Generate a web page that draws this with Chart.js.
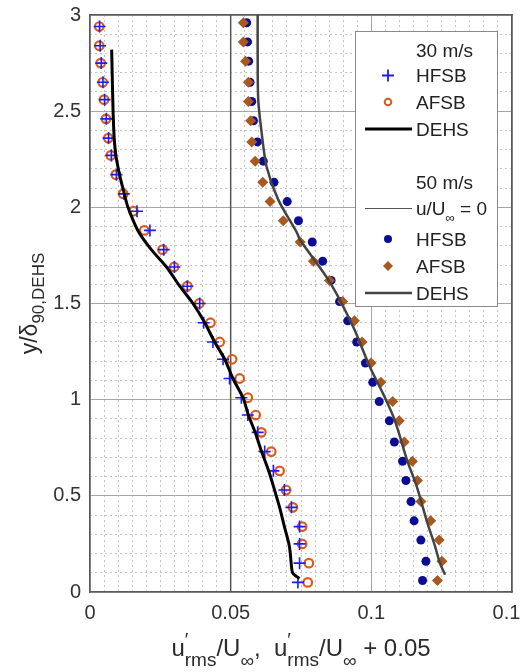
<!DOCTYPE html>
<html><head><meta charset="utf-8">
<script src="https://cdn.jsdelivr.net/npm/chart.js@4.4.1/dist/chart.umd.min.js"></script>
<style>html,body{margin:0;padding:0;background:#fff;overflow:hidden}#wrap{width:520px;height:672px;position:relative}</style>
</head><body><div id="wrap"><canvas id="c"></canvas></div>
<script>
// ---- data ----
const Y30 = [0.05,0.15,0.25,0.34,0.44,0.53,0.63,0.73,0.83,0.92,1.01,1.11,1.21,1.30,1.40,1.50,1.59,1.69,1.78,1.88,1.98,2.07,2.17,2.27,2.36,2.46,2.56,2.65,2.75,2.84,2.94];
const HFSB30 = [0.0739,0.0745,0.0745,0.0745,0.0716,0.0691,0.0652,0.0621,0.0596,0.0561,0.0538,0.0496,0.0473,0.0437,0.0404,0.0390,0.0346,0.0300,0.0262,0.0213,0.0167,0.0120,0.0094,0.0076,0.0066,0.0058,0.0052,0.0046,0.0040,0.0036,0.0034];
const AFSB30 = [0.0774,0.0778,0.0754,0.0754,0.0721,0.0697,0.0674,0.0644,0.0609,0.0589,0.0561,0.0532,0.0505,0.0461,0.0428,0.0388,0.0346,0.0299,0.0258,0.0193,0.0154,0.0118,0.0092,0.0074,0.0065,0.0057,0.0050,0.0045,0.0038,0.0033,0.0033];
const DEHS30_Y = [0.07,0.08,0.10,0.15,0.20,0.25,0.34,0.44,0.53,0.63,0.73,0.83,0.92,1.01,1.11,1.21,1.30,1.40,1.50,1.59,1.69,1.78,1.88,2.00,2.07,2.17,2.27,2.36,2.50,2.82];
const DEHS30_X = [0.0745,0.0735,0.0720,0.0715,0.0712,0.0707,0.0691,0.0674,0.0656,0.0635,0.0610,0.0587,0.0563,0.0544,0.0508,0.0479,0.0443,0.0408,0.0366,0.0319,0.0272,0.0218,0.0170,0.0135,0.0122,0.0105,0.0092,0.0086,0.0082,0.0077];
const Y50 = [0.06,0.16,0.27,0.37,0.47,0.58,0.68,0.78,0.89,0.99,1.09,1.19,1.30,1.41,1.51,1.62,1.72,1.82,1.93,2.03,2.13,2.24,2.34,2.45,2.55,2.65,2.76,2.86,2.96];
const HFSB50 = [0.1182,0.1194,0.1176,0.1152,0.1141,0.1123,0.1111,0.1082,0.1064,0.1028,0.1005,0.0979,0.0948,0.0916,0.0887,0.0857,0.0827,0.0790,0.0741,0.0701,0.0654,0.0616,0.0595,0.0581,0.0575,0.0569,0.0564,0.0560,0.0557];
const AFSB50 = [0.1235,0.1251,0.1241,0.1211,0.1176,0.1164,0.1146,0.1117,0.1099,0.1076,0.1034,0.0999,0.0967,0.0940,0.0898,0.0851,0.0794,0.0747,0.0687,0.0640,0.0614,0.0587,0.0575,0.0571,0.0563,0.0563,0.0553,0.0545,0.0545];
const DEHS50_Y = [0.09,0.15,0.24,0.37,0.55,0.69,0.89,1.03,1.17,1.38,1.61,1.83,1.87,2.04,2.21,2.39,2.56,2.80,3.00];
const DEHS50_X = [0.1262,0.1244,0.1226,0.1197,0.1161,0.1126,0.1084,0.1042,0.0995,0.0935,0.0853,0.0747,0.0735,0.0669,0.0628,0.0610,0.0598,0.0596,0.0596];
const ZERO_X = [0.05,0.05];
const ZERO_Y = [0,3];
const X_TICKS = [0,0.05,0.1,0.15];
const X_TICK_LABELS = ['0','0.05','0.1','0.15'];
const Y_TICKS = [0,0.5,1,1.5,2,2.5,3];
const Y_TICK_LABELS = ['0','0.5','1','1.5','2','2.5','3'];
const LEG_HEAD = ['30 m/s','50 m/s'];
const LEG_NAMES = ['HFSB','AFSB','DEHS'];

// ---- style ----
const FONT = "'Liberation Sans', Arial, Helvetica, sans-serif";
const C_PLUS = '#1c1cf0', C_CIRC = '#e0591c', C_DOT = '#0c0c96', C_DIAM = '#a9591f';
const pts = (xs, ys) => xs.map((x, i) => ({x: x, y: ys[i]}));

function drawRich(ctx, segs, cx, baseY) {
  let total = 0;
  const w = segs.map(s => { ctx.font = s.size + 'px ' + FONT; const m = ctx.measureText(s.t).width; if (!s.noAdv) total += m; return m; });
  let x = cx - total / 2;
  segs.forEach((s, i) => {
    ctx.font = s.size + 'px ' + FONT;
    ctx.fillText(s.t, x, baseY + (s.dy || 0));
    if (!s.noAdv) x += w[i];
  });
}

const decor = {
  id: 'decor',
  beforeDraw(chart) {
    const ctx = chart.ctx;
    ctx.save(); ctx.fillStyle = '#fff'; ctx.fillRect(0, 0, chart.width, chart.height); ctx.restore();
  },
  afterDraw(chart) {
    const ctx = chart.ctx, a = chart.chartArea;
    ctx.save();
    ctx.fillStyle = '#2b2b2b';
    ctx.textAlign = 'left';
    ctx.textBaseline = 'alphabetic';
    // x title
    const xs = [
      {t: 'u', size: 24},
      {t: '\u2032', size: 19, dy: -10, noAdv: true},
      {t: 'rms', size: 19, dy: 10},
      {t: '/U', size: 24},
      {t: '\u221E', size: 19, dy: 11},
      {t: ',  u', size: 24},
      {t: '\u2032', size: 19, dy: -10, noAdv: true},
      {t: 'rms', size: 19, dy: 10},
      {t: '/U', size: 24},
      {t: '\u221E', size: 19, dy: 11},
      {t: ' + 0.05', size: 24}
    ];
    drawRich(ctx, xs, (a.left + a.right) / 2, 656);
    // y title
    ctx.save();
    ctx.translate(37, (a.top + a.bottom) / 2);
    ctx.rotate(-Math.PI / 2);
    drawRich(ctx, [{t: 'y/\u03B4', size: 23}, {t: '90,DEHS', size: 17, dy: 7}], 0, 0);
    ctx.restore();

    // legend
    const L = 355.5, T = 31.5, W = 142, H = 275;
    ctx.fillStyle = '#fff';
    ctx.fillRect(L, T, W, H);
    ctx.strokeStyle = '#8a8a8a'; ctx.lineWidth = 1;
    ctx.strokeRect(L, T, W, H);
    const tx = 416, sx = 388, lx0 = 365, lx1 = 412;
    const rows = [50, 75.5, 102, 129, 182.5, 208.5, 239, 266, 293];
    ctx.fillStyle = '#222';
    ctx.font = '19px ' + FONT;
    const txt = (s, y) => ctx.fillText(s, tx, y + 6.8);
    txt(LEG_HEAD[0], rows[0]);
    txt(LEG_NAMES[0], rows[1]);
    txt(LEG_NAMES[1], rows[2]);
    txt(LEG_NAMES[2], rows[3]);
    txt(LEG_HEAD[1], rows[4]);
    // u/U_inf = 0
    ctx.fillText('u/U', tx, rows[5] + 6.8);
    let wx = tx + ctx.measureText('u/U').width;
    ctx.font = '13px ' + FONT;
    ctx.fillText('\u221E', wx, rows[5] + 13);
    wx += ctx.measureText('\u221E').width;
    ctx.font = '19px ' + FONT;
    ctx.fillText(' = 0', wx, rows[5] + 6.8);
    txt(LEG_NAMES[0], rows[6]);
    txt(LEG_NAMES[1], rows[7]);
    txt(LEG_NAMES[2], rows[8]);
    // symbols
    ctx.strokeStyle = C_PLUS; ctx.lineWidth = 1.8;
    ctx.beginPath(); ctx.moveTo(sx - 6, rows[1]); ctx.lineTo(sx + 6, rows[1]); ctx.moveTo(sx, rows[1] - 6); ctx.lineTo(sx, rows[1] + 6); ctx.stroke();
    ctx.strokeStyle = C_CIRC; ctx.lineWidth = 2;
    ctx.beginPath(); ctx.arc(sx, rows[2], 3.3, 0, Math.PI * 2); ctx.stroke();
    const seg = (y, col, lw) => { ctx.strokeStyle = col; ctx.lineWidth = lw; ctx.beginPath(); ctx.moveTo(lx0, y); ctx.lineTo(lx1, y); ctx.stroke(); };
    seg(rows[3], '#000', 3);
    seg(rows[5], '#555', 1.2);
    seg(rows[8], '#444', 2.5);
    ctx.fillStyle = C_DOT;
    ctx.beginPath(); ctx.arc(sx, rows[6], 4, 0, Math.PI * 2); ctx.fill();
    ctx.fillStyle = C_DIAM;
    ctx.beginPath(); ctx.moveTo(sx, rows[7] - 5); ctx.lineTo(sx + 5, rows[7]); ctx.lineTo(sx, rows[7] + 5); ctx.lineTo(sx - 5, rows[7]); ctx.closePath(); ctx.fill();
    ctx.restore();
  }
};

const zeroPad = s => { s.paddingLeft = 0; s.paddingRight = 0; s.paddingTop = 0; s.paddingBottom = 0; };
const tickFont = {family: FONT, size: 20};

new Chart(document.getElementById('c'), {
  type: 'scatter',
  data: {
    datasets: [
      {label: 'DEHS 30', data: pts(DEHS30_X, DEHS30_Y), showLine: true, borderColor: '#000', borderWidth: 3, pointRadius: 0, tension: 0.3, order: 1},
      {label: 'DEHS 50', data: pts(DEHS50_X, DEHS50_Y), showLine: true, borderColor: '#444', borderWidth: 2.5, pointRadius: 0, tension: 0.3, order: 2},
      {label: 'HFSB 30', data: pts(HFSB30, Y30), pointStyle: 'cross', pointRadius: 6, pointBorderWidth: 1.6, pointBorderColor: C_PLUS, pointBackgroundColor: C_PLUS, order: 3},
      {label: 'AFSB 30', data: pts(AFSB30, Y30), pointStyle: 'circle', pointRadius: 4.3, pointBorderWidth: 2.2, pointBorderColor: C_CIRC, pointBackgroundColor: 'rgba(255,255,255,0)', order: 4},
      {label: 'AFSB 50', data: pts(AFSB50, Y50), pointStyle: 'rectRot', pointRadius: 5.5, pointBorderWidth: 0, pointBackgroundColor: C_DIAM, pointBorderColor: C_DIAM, order: 5},
      {label: 'HFSB 50', data: pts(HFSB50, Y50), pointStyle: 'circle', pointRadius: 4.5, pointBorderWidth: 0, pointBackgroundColor: C_DOT, pointBorderColor: C_DOT, order: 6},
      {label: 'u/U=0', data: pts(ZERO_X, ZERO_Y), showLine: true, borderColor: '#555', borderWidth: 1.5, pointRadius: 0, order: 7}
    ]
  },
  options: {
    responsive: true, maintainAspectRatio: false, animation: false, events: [],
    layout: {padding: {top: 15, right: 8, left: 0, bottom: 0}},
    plugins: {legend: {display: false}, tooltip: {enabled: false}},
    scales: {
      xMinor: {type: 'linear', position: 'bottom', min: 0, max: 0.15,
        ticks: {display: false, stepSize: 0.005}, grid: {color: '#c4c4c4', lineWidth: 1, drawTicks: false},
        border: {display: false, dash: [2, 3]}, afterFit: s => { s.height = 0; zeroPad(s); }},
      yMinor: {type: 'linear', position: 'left', min: 0, max: 3,
        ticks: {display: false, stepSize: 0.1}, grid: {color: '#c4c4c4', lineWidth: 1, drawTicks: false},
        border: {display: false, dash: [2, 3]}, afterFit: s => { s.width = 0; zeroPad(s); }},
      x: {type: 'linear', position: 'bottom', min: 0, max: 0.15,
        afterBuildTicks: s => { s.ticks = X_TICKS.map(v => ({value: v})); },
        ticks: {callback: (v, i) => X_TICK_LABELS[i], font: tickFont, color: '#333', padding: 9, maxRotation: 0, autoSkip: false},
        grid: {color: '#a6a6a6', lineWidth: 1, drawTicks: false},
        border: {display: true, color: '#5a5a5a', width: 1.5},
        afterFit: s => { s.height = 80; zeroPad(s); }},
      y: {type: 'linear', position: 'left', min: 0, max: 3,
        afterBuildTicks: s => { s.ticks = Y_TICKS.map(v => ({value: v})); },
        ticks: {callback: (v, i) => Y_TICK_LABELS[i], font: tickFont, color: '#333', padding: 9, autoSkip: false},
        grid: {color: '#a6a6a6', lineWidth: 1, drawTicks: false},
        border: {display: true, color: '#5a5a5a', width: 1.5},
        afterFit: s => { s.width = 90; zeroPad(s); }},
      xTop: {type: 'linear', position: 'top', min: 0, max: 0.15,
        ticks: {display: false}, grid: {display: false, drawTicks: false},
        border: {display: true, color: '#5a5a5a', width: 1.5}, afterFit: s => { s.height = 0; zeroPad(s); }},
      yRight: {type: 'linear', position: 'right', min: 0, max: 3,
        ticks: {display: false}, grid: {display: false, drawTicks: false},
        border: {display: true, color: '#5a5a5a', width: 1.5}, afterFit: s => { s.width = 0; zeroPad(s); }}
    }
  },
  plugins: [decor]
});
</script>
</body></html>
